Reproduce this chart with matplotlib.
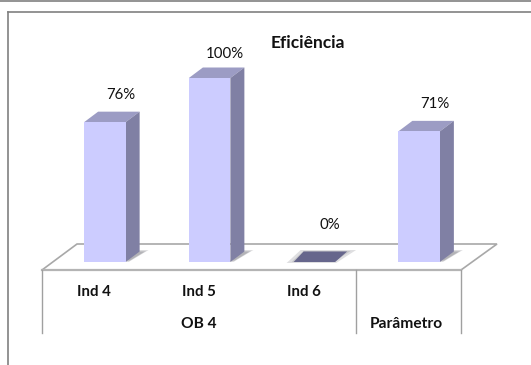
import matplotlib
matplotlib.use('Agg')
import matplotlib.pyplot as plt
from matplotlib.lines import Line2D
from matplotlib.patches import Polygon

W, H = 531, 365

labels = ['Ind 4', 'Ind 5', 'Ind 6', '']
values = [76, 100, 0, 71]
groups = ['OB 4', 'Parâmetro']
group_spans = [(0, 2), (3, 3)]
title = 'Eficiência'

FRONT = '#ccccff'
TOP = '#9c9cc4'
SIDE = '#8080a4'
GRID = '#a0a0a0'
FRAME = '#808080'

plt.rcParams['font.family'] = ['Lato', 'DejaVu Sans']

fig = plt.figure(figsize=(W / 100, H / 100), dpi=100, facecolor='white')
# axes box runs from 0 to 100 percent over the bar area, in pixels from top-left
ax = fig.add_axes([42 / W, (H - 262) / H, 419 / W, 184 / H])
ax.set_xlim(-0.5, 3.5)
ax.set_ylim(0, 100)
ax.axis('off')

px_x = 4 / 419
px_y = 100 / 184
dep_x = 14 * px_x
dep_y = 10.5 * px_y
bar_w = 41.5 * px_x
shift = 10.5 * px_x  # bars sit in the middle of the floor depth


def px(x, y):
    return Line2D([v / W for v in x], [(H - v) / H for v in y], color=FRAME,
                  lw=1.2, transform=fig.transFigure)


def shadow(pts, zorder=3):
    # stacked translucent polygons give the blurred floor shadow
    cx = sum(p[0] for p in pts) / len(pts)
    cy = sum(p[1] for p in pts) / len(pts)
    for k in [1.0, 0.85, 0.7]:
        ax.add_patch(Polygon([(cx + (a - cx) * k, cy + (b - cy) * k) for a, b in pts],
                             closed=True, fc='#707078', ec='none', alpha=0.22,
                             clip_on=False, zorder=zorder))


# outer frame lines
fig.add_artist(px([0, 531], [1, 1]))
fig.add_artist(px([8, 531], [11.5, 11.5]))
fig.add_artist(px([8, 8], [11.5, 365]))

# floor of the 3d chart
floor_y = -8 * px_y
ax.add_patch(Polygon([(-0.5, floor_y), (3.5, floor_y),
                      (3.5 + 36 * px_x, floor_y + 26 * px_y),
                      (-0.5 + 35 * px_x, floor_y + 26 * px_y)],
                     closed=True, fc='white', ec='#a8a8a8', lw=1.2,
                     clip_on=False, zorder=1))
ax.plot([-0.5, 3.5], [floor_y, floor_y], color='#b4b4b4', lw=1.6,
        clip_on=False, zorder=2)

for i, v in enumerate(values):
    x0 = i + shift - bar_w / 2
    x1 = i + shift + bar_w / 2
    if v == 0:
        shadow([(x0 - 7 * px_x, -1 * px_y), (x1 + 1 * px_x, -1 * px_y),
                (x1 + 21 * px_x, 12 * px_y), (x0 + 7 * px_x, 12 * px_y)])
        ax.add_patch(Polygon([(x0, 0), (x1, 0), (x1 + 12 * px_x, dep_y), (x0 + 10 * px_x, dep_y)],
                             closed=True, fc='#66668c', ec='none',
                             clip_on=False, zorder=4))
    else:
        shadow([(x1 - 2 * px_x, 0), (x1 + 3 * px_x, 0), (x1 + 23 * px_x, 12 * px_y),
                (x1 + 10 * px_x, 12 * px_y)])
        ax.bar(i + shift, v, width=bar_w, color=FRONT, zorder=5, clip_on=False)
        ax.add_patch(Polygon([(x0, v), (x1, v), (x1 + dep_x, v + dep_y), (x0 + dep_x, v + dep_y)],
                             closed=True, fc=TOP, ec='none', clip_on=False, zorder=4))
        ax.add_patch(Polygon([(x1, 0), (x1 + dep_x, dep_y), (x1 + dep_x, v + dep_y), (x1, v)],
                             closed=True, fc=SIDE, ec='none', clip_on=False, zorder=4))
    gap = 13.5 if v == 100 else 16.5
    ax.text(i + 26 * px_x, v + dep_y + gap * px_y if v else 37 * px_y,
            f'{v}%', ha='center', va='center', fontsize=10.8, color='#111111',
            clip_on=False)

# two level category axis below the floor
ax_bottom = floor_y - 63 * px_y
for edge in [-0.5, 2.5, 3.5]:
    ax.plot([edge, edge], [floor_y, ax_bottom], color=GRID, lw=1, clip_on=False)
for i, lab in enumerate(labels):
    if lab:
        ax.text(i, floor_y - 22 * px_y, lab, ha='center', va='center',
                fontsize=10.8, fontweight='bold', color='#111111')
for name, (a, b) in zip(groups, group_spans):
    ax.text((a + b) / 2 - (2 * px_x if a == b else 0), floor_y - 54 * px_y, name,
            ha='center', va='center', fontsize=11.2, fontweight='bold', color='#111111')

fig.text(308 / W, (H - 43) / H, title, ha='center', va='center',
         fontsize=12.5, fontweight='bold', color='#111111')

fig.savefig('out.png', dpi=100)
